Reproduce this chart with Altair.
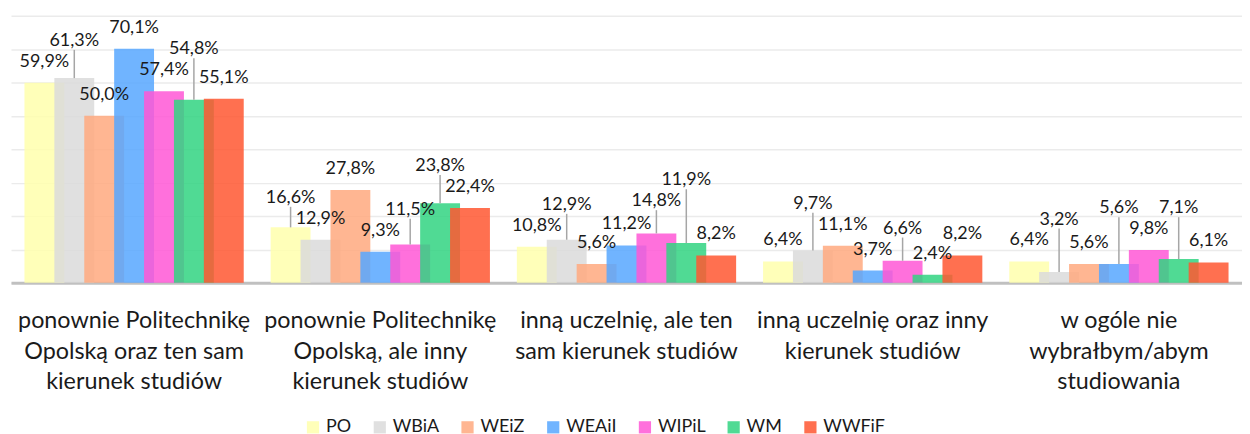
import itertools
import altair as alt
import pandas as pd

categories = [
    "ponownie Politechnikę\nOpolską oraz ten sam\nkierunek studiów",
    "ponownie Politechnikę\nOpolską, ale inny\nkierunek studiów",
    "inną uczelnię, ale ten\nsam kierunek studiów",
    "inną uczelnię oraz inny\nkierunek studiów",
    "w ogóle nie\nwybrałbym/abym\nstudiowania",
]
series = ["PO", "WBiA", "WEiZ", "WEAiI", "WIPiL", "WM", "WWFiF"]
colors = ["#FFFFAD", "#DBDBDB", "#FFA97F", "#57A7FF", "#FF57D6", "#31D381", "#FF5731"]

PO = [59.9, 16.6, 10.8, 6.4, 6.4]
WBiA = [61.3, 12.9, 12.9, 9.7, 3.2]
WEiZ = [50.0, 27.8, 5.6, 11.1, 5.6]
WEAiI = [70.1, 9.3, 11.2, 3.7, 5.6]
WIPiL = [57.4, 11.5, 14.8, 6.6, 9.8]
WM = [54.8, 23.8, 11.9, 2.4, 7.1]
WWFiF = [55.1, 22.4, 8.2, 8.2, 6.1]
values = [PO, WBiA, WEiZ, WEAiI, WIPiL, WM, WWFiF]

W, H = 1235, 268
YMAX = 80
px = H / YMAX            # pixels per percent
lab_off = 21 / px        # label center above bar top
clash = 15 / px          # neighbouring labels closer than this collide
lift = 21 / px           # a moved label sits this far above the labels it collides with

rows = []
n = len(series)
for ci, cat in enumerate(categories):
    vals = [values[si][ci] for si in range(n)]
    nat = [v + lab_off for v in vals]
    edges = [(i, i + 1) for i in range(n - 1) if abs(nat[i] - nat[i + 1]) < clash]
    best = None
    for k in range(n + 1):
        for sub in itertools.combinations(range(n), k):
            s = set(sub)
            if all(a in s or b in s for a, b in edges):
                score = sum(vals[i] for i in s)
                if best is None or score > best[1]:
                    best = (s, score)
        if best is not None:
            break
    moved = best[0]
    pos = list(nat)
    for i in sorted(moved):
        neigh = [pos[b if a == i else a] for a, b in edges if i in (a, b)]
        pos[i] = max([nat[i]] + [p + lift for p in neigh])
    for si, s in enumerate(series):
        rows.append({
            "cat": cat, "series": s, "value": vals[si],
            "label": f"{vals[si]:.1f}%".replace(".", ","),
            "lpos": pos[si], "lifted": si in moved,
            "lbot": pos[si] - 9 / px,
        })
df = pd.DataFrame(rows)

xaxis = alt.Axis(title=None, labelExpr="split(datum.label, '\\n')", labelAngle=0,
                 labelFontSize=23.4, labelLineHeight=30.5, labelFont="Lato",
                 labelColor="#1a1a1a", ticks=False, domainColor="#c0c0c0",
                 domainWidth=3, labelPadding=27, labelBaseline="top", labelLimit=0)
yaxis = alt.Axis(title=None, labels=False, ticks=False, domain=False,
                 values=list(range(0, YMAX + 1, 10)), gridColor="#ebebeb",
                 gridWidth=1.5)
xenc = alt.X("cat:N", sort=categories, scale=alt.Scale(paddingInner=0, paddingOuter=0),
             axis=xaxis)
xoff = alt.XOffset("series:N", sort=series, scale=alt.Scale(paddingInner=0, paddingOuter=0.617))
yscale = alt.Scale(domain=[0, YMAX], nice=False)

base = alt.Chart(df)

bars = base.mark_bar(width=40, opacity=0.85).encode(
    x=xenc,
    xOffset=xoff,
    y=alt.Y("value:Q", scale=yscale, axis=yaxis),
    color=alt.Color("series:N", sort=series, scale=alt.Scale(domain=series, range=colors),
                    legend=alt.Legend(title=None, orient="none", direction="horizontal",
                                      legendX=294, legendY=404, symbolType="square",
                                      symbolSize=150, symbolStrokeWidth=0,
                                      symbolOpacity=0.85,
                                      labelFontSize=18, labelFont="Lato",
                                      labelColor="#1a1a1a", columnPadding=19,
                                      labelOffset=4)),
)

leaders = base.transform_filter("datum.lifted").mark_rule(color="#a6a6a6", strokeWidth=1.5).encode(
    x=xenc,
    xOffset=xoff,
    y=alt.Y("value:Q", scale=yscale, axis=yaxis),
    y2="lbot:Q",
)

labels = base.mark_text(fontSize=18, font="Lato", color="#1a1a1a", baseline="middle").encode(
    x=xenc,
    xOffset=xoff,
    y=alt.Y("lpos:Q", scale=yscale, axis=yaxis),
    text="label:N",
)

chart = alt.layer(bars, leaders, labels).properties(
    width=W, height=H,
    padding={"left": 3, "top": 7, "right": 0, "bottom": 0},
).configure_view(stroke=None)

chart.save("out.html", embed_options={"renderer": "svg", "actions": False})
